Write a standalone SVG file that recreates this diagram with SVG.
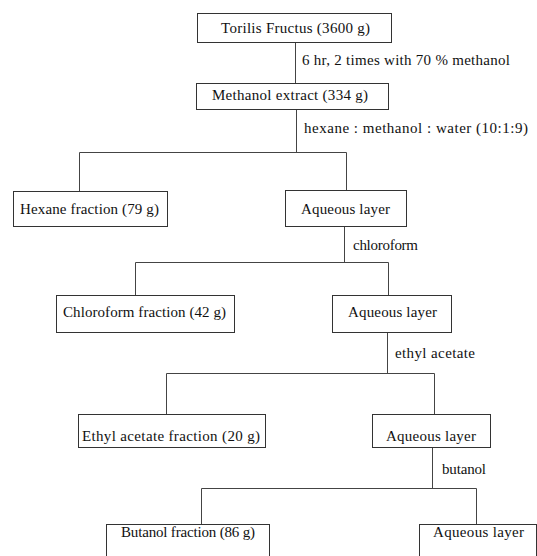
<svg xmlns="http://www.w3.org/2000/svg" width="537" height="556" viewBox="0 0 537 556">
<style>
.box{fill:#fff;stroke:#333;stroke-width:1}
.ln{fill:none;stroke:#444;stroke-width:1}
text{font-family:"Liberation Serif","Times New Roman",serif;font-size:15px;fill:#111}
</style>
<rect width="537" height="556" fill="#fff"/>
<g id="connectors">
<path class="ln" d="M295.5 42V83"/>
<path class="ln" d="M296.5 109V152.5M79.5 191V152.5H346.5V190"/>
<path class="ln" d="M344.5 226V262.5M135.5 295V262.5H388.5V295"/>
<path class="ln" d="M387.5 332V373.5M166.5 414V373.5H434.5V414"/>
<path class="ln" d="M432.5 447V488.5M201.5 524V488.5H476.5V524"/>
<text x="302" y="65" textLength="208" lengthAdjust="spacing">6 hr, 2 times with 70 % methanol</text>
<text x="304" y="133" textLength="224" lengthAdjust="spacing">hexane : methanol : water (10:1:9)</text>
<text x="353" y="250" textLength="65" lengthAdjust="spacing">chloroform</text>
<text x="395" y="358" textLength="80" lengthAdjust="spacing">ethyl acetate</text>
<text x="442" y="474" textLength="44" lengthAdjust="spacing">butanol</text>
</g>
<g id="torilis"><rect class="box" x="197.5" y="13.5" width="194" height="29"/><text x="221" y="33" textLength="149" lengthAdjust="spacing">Torilis Fructus (3600 g)</text></g>
<g id="methanol"><rect class="box" x="196.5" y="83.5" width="192" height="26"/><text x="212" y="100" textLength="156" lengthAdjust="spacing">Methanol extract (334 g)</text></g>
<g id="hexane"><rect class="box" x="13.5" y="191.5" width="154" height="35"/><text x="20" y="214" textLength="139" lengthAdjust="spacing">Hexane fraction (79 g)</text></g>
<g id="aq1"><rect class="box" x="285.5" y="190.5" width="121" height="36"/><text x="301" y="214" textLength="89" lengthAdjust="spacing">Aqueous layer</text></g>
<g id="chloroform"><rect class="box" x="56.5" y="295.5" width="178" height="37"/><text x="63" y="317" textLength="163" lengthAdjust="spacing">Chloroform fraction (42 g)</text></g>
<g id="aq2"><rect class="box" x="332.5" y="295.5" width="119" height="37"/><text x="348" y="317" textLength="89" lengthAdjust="spacing">Aqueous layer</text></g>
<g id="ethyl"><rect class="box" x="78.5" y="414.5" width="187" height="33"/><text x="82" y="441" textLength="178" lengthAdjust="spacing">Ethyl acetate fraction (20 g)</text></g>
<g id="aq3"><rect class="box" x="372.5" y="414.5" width="118" height="33"/><text x="386" y="441" textLength="90" lengthAdjust="spacing">Aqueous layer</text></g>
<g id="butanol"><rect class="box" x="106.5" y="524.5" width="163" height="40"/><text x="121" y="537" textLength="134" lengthAdjust="spacing">Butanol fraction (86 g)</text></g>
<g id="aq4"><rect class="box" x="419.5" y="524.5" width="117" height="40"/><text x="433" y="537" textLength="91" lengthAdjust="spacing">Aqueous layer</text></g>
</svg>
